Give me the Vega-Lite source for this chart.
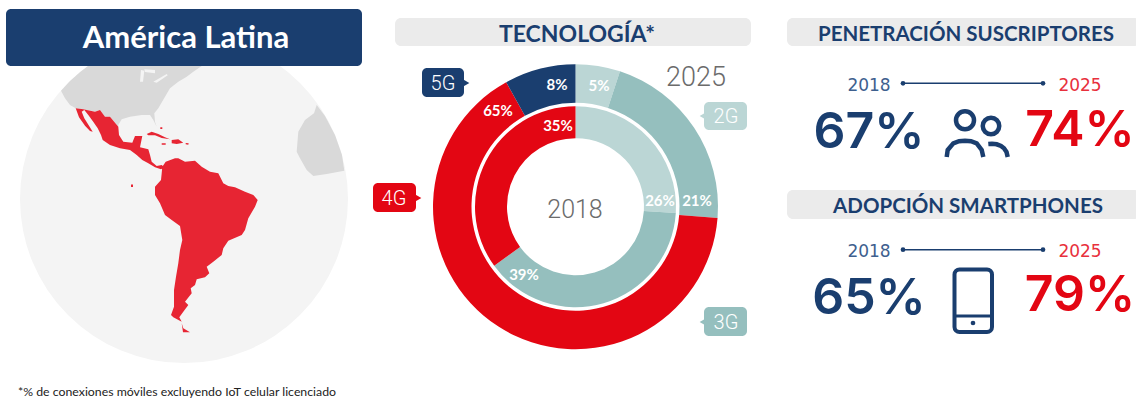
{
"$schema":"https://vega.github.io/schema/vega-lite/v6.json",
"width":1136,"height":404,"padding":0,"autosize":{"type":"none"},"background":"white",
"config":{"view":{"stroke":null}},
"datasets":{
"tecnologia":[
{"year":"y2018","tech":"2G","pct":26,"rank":1,"x":575.5,"y":206.7},{"year":"y2018","tech":"3G","pct":39,"rank":2,"x":575.5,"y":206.7},{"year":"y2018","tech":"4G","pct":35,"rank":3,"x":575.5,"y":206.7},
{"year":"y2025","tech":"2G","pct":5,"rank":1,"x":575.5,"y":206.7},{"year":"y2025","tech":"3G","pct":21,"rank":2,"x":575.5,"y":206.7},{"year":"y2025","tech":"4G","pct":65,"rank":3,"x":575.5,"y":206.7},{"year":"y2025","tech":"5G","pct":8,"rank":4,"x":575.5,"y":206.7}],
"tags":[
{"tech":"5G","x":422,"x2":464,"y":68,"y2":97,"tip":465,"yc":83},
{"tech":"2G","x":704,"x2":747,"y":102,"y2":130,"tip":704,"yc":116},
{"tech":"4G","x":373,"x2":416,"y":183,"y2":212,"tip":417,"yc":198},
{"tech":"3G","x":704,"x2":747,"y":307,"y2":336,"tip":704,"yc":322}]
},
"layer":[
{"data":{"values":[{"region":"globo","x":184,"y":199}]},"mark":{"type":"point","filled":true,"opacity":1,"fill":"#F4F4F4","stroke":null,"shape":"circle"},
 "encoding":{"x":{"field":"x","type":"quantitative","scale":{"domain":[0,1136]},"axis":null},"y":{"field":"y","type":"quantitative","scale":{"domain":[404,0]},"axis":null},"size":{"value":107584}}},
{"data":{"values":[
 {"type":"Feature","properties":{"name":"Norteamérica"},"geometry":{"type":"Polygon","coordinates":[[[61,90.7],[65,98.3],[70,105],[75.7,108.3],[83.3,109.3],[95,111.7],[100,110],[105,116.7],[110,116.7],[118.3,126.7],[118.3,125],[121.7,119.3],[130,116.7],[141.7,115],[150,115],[153.3,120],[156.7,126.7],[155,121.7],[154.3,113.3],[158.3,108.3],[165,96.7],[170,88.3],[178.3,81.7],[186.7,76.7],[193.3,71.7],[201.7,66],[88,66],[80.2,72],[70,81],[61,90.7]]]}},
 {"type":"Feature","properties":{"name":"África"},"geometry":{"type":"Polygon","coordinates":[[[316.7,105],[314,113.3],[305,120],[298.3,131.7],[296.7,151.7],[300,158.3],[306.7,170],[313.3,176],[326.7,174],[344.3,170.7],[342,155],[335,135],[325,116],[316.7,105]]]}}
 ]},"mark":{"type":"geoshape","fill":"#D9D9D9","stroke":null},"projection":{"type":"identity","scale":1,"translate":[0,0]}},
{"data":{"values":[
 {"type":"Feature","properties":{"name":"Lagos"},"geometry":{"type":"MultiPolygon","coordinates":[[[[141,70],[144.3,70.7],[143,81.7],[140,81.7],[141,70]]],[[[144.3,69.3],[155,70],[155,73.3],[145,72],[144.3,69.3]]],[[[153.3,81.7],[166.7,74],[167.7,75.3],[156.7,82.7],[153.3,81.7]]]]}}
 ]},"mark":{"type":"geoshape","fill":"#F4F4F4","stroke":null},"projection":{"type":"identity","scale":1,"translate":[0,0]}},
{"data":{"values":[
 {"type":"Feature","properties":{"name":"América Latina"},"geometry":{"type":"MultiPolygon","coordinates":[
 [[[75.7,108.3],[83.3,109.3],[95,111.7],[100,110],[105,116.7],[110,116.7],[118.3,126.7],[119,135],[123.3,141.7],[132.3,142.7],[135,136],[142.3,136],[140,147.3],[148.3,149.3],[150,155],[151.7,161.7],[156.7,166],[161.7,165],[164.3,167.3],[161,169.3],[155,167.3],[148.3,163.3],[142.3,160],[136.7,155],[130,150],[120,148.3],[110,145],[102.7,140],[101,135],[97.7,128.3],[92.7,121],[88.3,115],[84.3,110],[81.7,111.7],[84.3,118.3],[89,125.7],[92.7,131.7],[90,131],[85,125.7],[79,117.3],[75.7,108.3]]],
 [[[162.3,166.7],[165.7,161.7],[175,158.3],[178.3,158.3],[185,161.7],[195,160.7],[201.7,166.7],[210,171.7],[218.3,173.3],[223.3,183.3],[228.3,186],[235,187.3],[245,191.7],[253.3,195],[257.7,200],[255,206.7],[248.3,218.3],[245,230],[241.7,235],[228.3,240.7],[223.3,248.3],[221.7,255],[213.3,261.7],[206.7,266.7],[209.3,273.3],[205,277.3],[196.7,279.3],[195,285],[190.7,288.3],[191.7,293.3],[185,301.7],[188.3,305],[183.3,311.7],[179.3,317.3],[181.7,321.7],[173.3,317.3],[171,315],[174,306.7],[174,290],[176,276.7],[178.3,263.3],[180,250],[182.3,240],[180,226],[171.7,220],[165,215],[160,203.3],[155,195],[155,186.7],[161,180],[161.7,173.3],[162.3,166.7]]],
 [[[181.7,323.3],[183.3,328.3],[190,332.3],[183,332.3],[181.7,323.3]]],
 [[[146.7,134],[151.7,131.7],[158.3,134],[165,137.3],[170,139.3],[161.7,138],[155,135.3],[148.3,135.3],[146.7,134]]],
 [[[171.7,140],[178.3,139.3],[183.3,142.7],[176.7,144],[171.7,143.3],[171.7,140]]],
 [[[161.7,143.3],[165.7,143.3],[165.7,144.7],[161.7,144.7],[161.7,143.3]]],
 [[[185.7,143],[188.7,143.3],[188.3,144.7],[185.7,144.3],[185.7,143]]],
 [[[160.3,127.3],[162.3,127.3],[162.3,129],[160.3,129],[160.3,127.3]]],
 [[[131,184.5],[133,184.5],[133,187],[131,187],[131,184.5]]]
 ]}}
 ]},"mark":{"type":"geoshape","fill":"#E72533","stroke":null},"projection":{"type":"identity","scale":1,"translate":[0,0]}},
{"data":{"values":[
 {"type":"Feature","properties":{"name":"personas"},"geometry":{"type":"MultiLineString","coordinates":[[[946.7,157],[947.7,150],[953.3,143.3],[959,141.2],[965,140.7],[971,141.2],[976.7,143.3],[981.7,150],[983.3,157]],[[988.3,144],[992,143.7],[996.7,144.3],[1001,146],[1004,148.3],[1006.5,152],[1007.7,157]]]}}
 ]},"mark":{"type":"geoshape","filled":false,"fill":null,"stroke":"#1A3E6F","strokeWidth":4.5},"projection":{"type":"identity","scale":1,"translate":[0,0]}},
{"encoding":{"x":{"field":"x","type":"quantitative","scale":{"domain":[0,1136]},"axis":null},"y":{"field":"y","type":"quantitative","scale":{"domain":[404,0]},"axis":null}},
 "layer":[
 {"data":{"values":[{"x":6,"x2":362,"y":9,"y2":66}]},"mark":{"type":"rect","fill":"#1A3E6F","cornerRadius":5},"encoding":{"x2":{"field":"x2"},"y2":{"field":"y2"}}},
 {"data":{"values":[{"x":395,"x2":751,"y":18,"y2":46},{"x":787,"x2":1140,"y":18,"y2":46},{"x":787,"x2":1140,"y":190,"y2":219}]},"mark":{"type":"rect","fill":"#EBEBEB","cornerRadius":6},"encoding":{"x2":{"field":"x2"},"y2":{"field":"y2"}}},
 {"data":{"name":"tecnologia"},"transform":[{"filter":"datum.year=='y2025'"},{"stack":"pct","groupby":["year"],"sort":[{"field":"rank","order":"ascending"}],"offset":"normalize","as":["p0","p1"]}],"mark":{"type":"arc","outerRadius":142.5,"innerRadius":104},
  "encoding":{
  "theta":{"field":"p0","type":"quantitative","stack":null,"scale":{"domain":[0,1],"range":[0,6.2832]}},"theta2":{"field":"p1"},
  "color":{"field":"tech","type":"nominal","legend":null,"scale":{"domain":["2G","3G","4G","5G"],"range":["#BBD6D5","#95BFBE","#E30613","#1A3E6F"]}}}},
 {"data":{"name":"tecnologia"},"transform":[{"filter":"datum.year=='y2018'"},{"stack":"pct","groupby":["year"],"sort":[{"field":"rank","order":"ascending"}],"offset":"normalize","as":["p0","p1"]}],"mark":{"type":"arc","outerRadius":100.5,"innerRadius":68.5},
  "encoding":{
  "theta":{"field":"p0","type":"quantitative","stack":null,"scale":{"domain":[0,1],"range":[0,6.2832]}},"theta2":{"field":"p1"},
  "color":{"field":"tech","type":"nominal","legend":null,"scale":{"domain":["2G","3G","4G","5G"],"range":["#BBD6D5","#95BFBE","#E30613","#1A3E6F"]}}}},
 {"data":{"name":"tags"},"mark":{"type":"rect","cornerRadius":5},"encoding":{"x2":{"field":"x2"},"y2":{"field":"y2"},"color":{"field":"tech","type":"nominal","legend":null,"scale":{"domain":["2G","3G","4G","5G"],"range":["#BBD6D5","#95BFBE","#E30613","#1A3E6F"]}}}},
 {"data":{"name":"tags"},"transform":[{"filter":"datum.tech==='5G'||datum.tech==='4G'"}],"mark":{"type":"point","filled":true,"opacity":1,"shape":"triangle-right","size":100},"encoding":{"x":{"field":"tip","type":"quantitative"},"y":{"field":"yc","type":"quantitative"},"color":{"field":"tech","type":"nominal","legend":null}}},
 {"data":{"name":"tags"},"transform":[{"filter":"datum.tech==='2G'||datum.tech==='3G'"}],"mark":{"type":"point","filled":true,"opacity":1,"shape":"triangle-left","size":100},"encoding":{"x":{"field":"tip","type":"quantitative"},"y":{"field":"yc","type":"quantitative"},"color":{"field":"tech","type":"nominal","legend":null}}},
 {"data":{"values":[{"t":"5G","x":443,"y":84},{"t":"2G","x":726,"y":117},{"t":"4G","x":394,"y":199},{"t":"3G","x":726,"y":323}]},"mark":{"type":"text","font":"Roboto","fontWeight":300,"fontSize":20,"fill":"white","baseline":"middle"},"encoding":{"text":{"field":"t"}}},
 {"data":{"values":[{"t":"8%","x":557,"y":84.5},{"t":"5%","x":599,"y":85.5},{"t":"65%","x":498,"y":110.5},{"t":"35%","x":558,"y":125.5},{"t":"26%","x":660,"y":200.5},{"t":"21%","x":697,"y":200.5},{"t":"39%","x":524,"y":274.5}]},"mark":{"type":"text","font":"Lato","fontWeight":"bold","fontSize":15,"fill":"white","baseline":"middle"},"encoding":{"text":{"field":"t"}}},
 {"data":{"values":[{"t":"2018","x":575,"y":210,"s":25},{"t":"2025","x":696,"y":78,"s":27}]},"mark":{"type":"text","font":"Roboto","fontWeight":300,"fill":"#6B6B6B","baseline":"middle"},"encoding":{"text":{"field":"t"},"size":{"field":"s","type":"quantitative","scale":null}}},
 {"data":{"values":[{"t":"América Latina","x":186,"y":39}]},"mark":{"type":"text","font":"Lato","fontWeight":"bold","fontSize":31,"fill":"white","baseline":"middle"},"encoding":{"text":{"field":"t"}}},
 {"data":{"values":[{"t":"TECNOLOGÍA*","x":577,"y":34.5,"s":23},{"t":"PENETRACIÓN SUSCRIPTORES","x":966,"y":34.5,"s":20.5},{"t":"ADOPCIÓN SMARTPHONES","x":968,"y":206.5,"s":20.5}]},"mark":{"type":"text","font":"Lato","fontWeight":"bold","fill":"#1A3E6F","baseline":"middle"},"encoding":{"text":{"field":"t"},"size":{"field":"s","type":"quantitative","scale":null}}},
 {"data":{"values":[{"t":"2018","x":869,"y":86},{"t":"2018","x":869,"y":252}]},"mark":{"type":"text","font":"DejaVu Sans","fontSize":17,"fill":"#3E608E","baseline":"middle"},"encoding":{"text":{"field":"t"}}},
 {"data":{"values":[{"t":"2025","x":1080,"y":86},{"t":"2025","x":1080,"y":252}]},"mark":{"type":"text","font":"DejaVu Sans","fontSize":17,"fill":"#E8303C","baseline":"middle"},"encoding":{"text":{"field":"t"}}},
 {"data":{"values":[{"x":903,"x2":1043,"y":83.3},{"x":903,"x2":1043,"y":249.7}]},"mark":{"type":"rule","stroke":"#1A3E6F","strokeWidth":1.5},"encoding":{"x2":{"field":"x2"}}},
 {"data":{"values":[{"x":903,"y":83.3},{"x":1043,"y":83.3},{"x":903,"y":249.7},{"x":1043,"y":249.7},{"x":973,"y":323}]},"mark":{"type":"point","filled":true,"opacity":1,"fill":"#1A3E6F","stroke":null,"size":22},"encoding":{}},
 {"data":{"values":[{"t":"67%","x":869,"y":133},{"t":"65%","x":869,"y":299}]},"mark":{"type":"text","font":"Inter","fontWeight":600,"fontSize":50,"fill":"#1A3E6F","baseline":"middle"},"encoding":{"text":{"field":"t"}}},
 {"data":{"values":[{"t":"74%","x":1080,"y":131},{"t":"79%","x":1080,"y":296}]},"mark":{"type":"text","font":"Inter","fontWeight":600,"fontSize":50,"fill":"#E30613","baseline":"middle"},"encoding":{"text":{"field":"t"}}},
 {"data":{"values":[{"x":965,"y":120.3,"a":324},{"x":991,"y":126,"a":272}]},"mark":{"type":"point","filled":false,"opacity":1,"stroke":"#1A3E6F","strokeWidth":4.5,"fill":null},"encoding":{"size":{"field":"a","type":"quantitative","scale":null}}},
 {"data":{"values":[{"x":954.5,"x2":992,"y":269.5,"y2":332}]},"mark":{"type":"rect","fill":null,"stroke":"#1A3E6F","strokeWidth":4,"cornerRadius":5},"encoding":{"x2":{"field":"x2"},"y2":{"field":"y2"}}},
 {"data":{"values":[{"x":954.5,"x2":992,"y":316}]},"mark":{"type":"rule","stroke":"#1A3E6F","strokeWidth":3},"encoding":{"x2":{"field":"x2"}}},
 {"data":{"values":[{"t":"*% de conexiones móviles excluyendo IoT celular licenciado","x":18,"y":392}]},"mark":{"type":"text","font":"Lato","fontSize":12.3,"fill":"#222222","align":"left","baseline":"middle"},"encoding":{"text":{"field":"t"}}}
 ]}
]
}
